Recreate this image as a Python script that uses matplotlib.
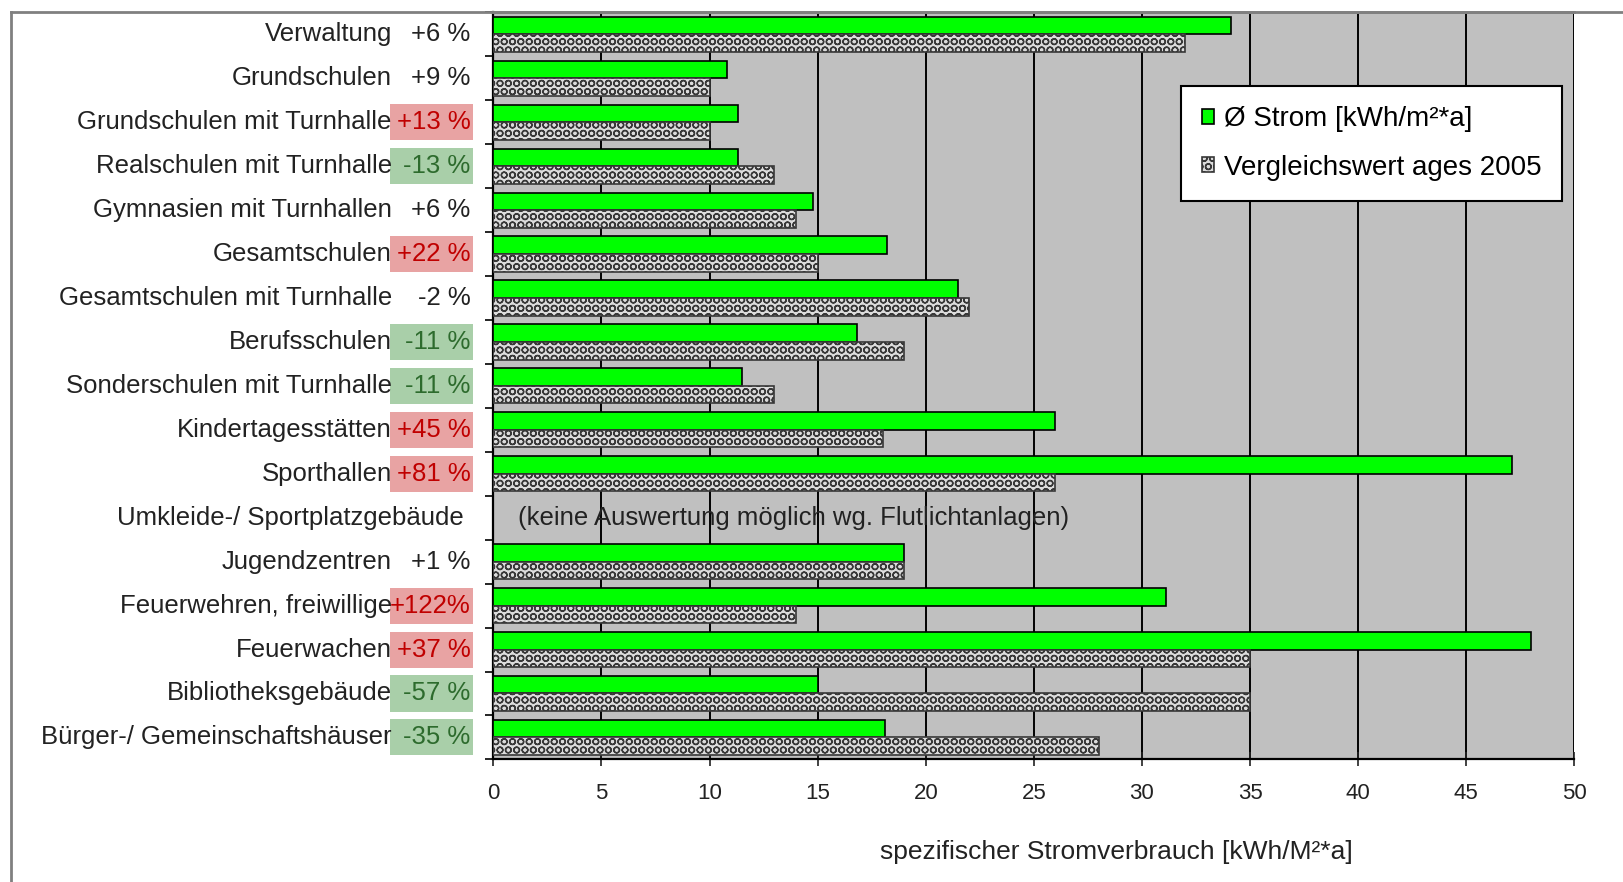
import numpy as np
import matplotlib
matplotlib.use("Agg")
import matplotlib.pyplot as plt
from matplotlib.patches import Rectangle
from matplotlib.lines import Line2D

plt.rcParams['font.family'] = ['Liberation Sans', 'DejaVu Sans']
plt.rcParams['hatch.linewidth'] = 1.0

# data (top to bottom)
categories = [
    "Verwaltung", "Grundschulen", "Grundschulen mit Turnhalle",
    "Realschulen mit Turnhalle", "Gymnasien mit Turnhallen", "Gesamtschulen",
    "Gesamtschulen mit Turnhalle", "Berufsschulen", "Sonderschulen mit Turnhalle",
    "Kindertagesstätten", "Sporthallen", "Umkleide-/ Sportplatzgebäude",
    "Jugendzentren", "Feuerwehren, freiwillige", "Feuerwachen",
    "Bibliotheksgebäude", "Bürger-/ Gemeinschaftshäuser",
]
changes = ["+6 %", "+9 %", "+13 %", "-13 %", "+6 %", "+22 %", "-2 %", "-11 %",
           "-11 %", "+45 %", "+81 %", "", "+1 %", "+122%", "+37 %", "-57 %", "-35 %"]
marks = ["", "", "up", "down", "", "up", "", "down", "down", "up", "up", "",
         "", "up", "up", "down", "down"]
strom = [34.1, 10.8, 11.3, 11.3, 14.8, 18.2, 21.5, 16.8, 11.5, 26.0, 47.1,
         np.nan, 19.0, 31.1, 48.0, 15.0, 18.1]
vergleich = [32.0, 10.0, 10.0, 13.0, 14.0, 15.0, 22.0, 19.0, 13.0, 18.0, 26.0,
             np.nan, 19.0, 14.0, 35.0, 35.0, 28.0]
note = "(keine Auswertung möglich wg. Flutlichtanlagen)"

fig = plt.figure(figsize=(16.23, 8.82), dpi=100)
ax = fig.add_axes([0.304, 0.139, 0.666, 0.847])
ax.set_facecolor('#c0c0c0')

y = np.arange(len(categories))
ax.barh(y - 0.2, strom, height=0.4, color='#00ff00', edgecolor='black',
        linewidth=1.2, zorder=3, label='Ø Strom [kWh/m²*a]')
ax.barh(y + 0.2, vergleich, height=0.4, color='#dcdcdc', edgecolor='#383838',
        hatch='OO', linewidth=1.2, zorder=3, label='Vergleichswert ages 2005')

ax.set_xlim(0, 50)
ax.set_ylim(len(categories) - 0.5, -0.5)
ax.set_xticks(np.arange(0, 51, 5))
ax.xaxis.grid(True, color='black', linewidth=1.4, zorder=1)
ax.set_axisbelow(True)
ax.tick_params(axis='x', direction='inout', length=10, width=1.2, pad=12,
               labelsize=16, colors='#222222')
ax.set_yticks(np.arange(len(categories) + 1) - 0.5)
ax.set_yticklabels([])
ax.tick_params(axis='y', direction='out', length=6, width=1.2)

for s in ['left', 'bottom']:
    ax.spines[s].set_linewidth(1.6)
ax.spines['right'].set_visible(False)
ax.spines['top'].set_color('#808080')
ax.spines['top'].set_linewidth(2)

# category names and percentage changes
trans = ax.get_yaxis_transform()
box_col = {"up": '#e8a3a3', "down": '#a9cfa9'}
txt_col = {"up": '#c00000', "down": '#2d6b2d', "": '#222222'}
fs = 18.5
for i, (name, ch, mk) in enumerate(zip(categories, changes, marks)):
    if ch:
        ax.text(-0.094, i, name, transform=trans, ha='right', va='center',
                fontsize=fs, color='#222222', zorder=3)
        if mk:
            ax.add_patch(Rectangle((-0.096, i - 0.41), 0.077, 0.82,
                                   transform=trans, facecolor=box_col[mk],
                                   edgecolor='none', clip_on=False, zorder=1))
        ax.text(-0.021, i, ch, transform=trans, ha='right', va='center',
                fontsize=fs, color=txt_col[mk], zorder=3)
    else:
        ax.text(-0.027, i, name, transform=trans, ha='right', va='center',
                fontsize=fs, color='#222222')
        ax.text(1.15, i, note, ha='left', va='center', fontsize=fs,
                color='#222222', zorder=4)

leg = ax.legend(loc='upper right', bbox_to_anchor=(0.989, 0.902), fontsize=20,
                frameon=True, fancybox=False, edgecolor='black', framealpha=1,
                handlelength=0.45, handleheight=0.45, handletextpad=0.35,
                labelspacing=0.8, borderpad=0.75, borderaxespad=0)
leg.get_frame().set_linewidth(1.5)

fig.text(0.688, 0.034, "spezifischer Stromverbrauch [kWh/M²*a]", ha='center',
         va='center', fontsize=19, color='#222222')

# outer frame of the chart area
fig.add_artist(Line2D([11 / 1623, 11 / 1623], [0, 1 - 12 / 882],
                      transform=fig.transFigure, color='#808080', linewidth=2))
fig.add_artist(Line2D([11 / 1623, 1], [1 - 12 / 882, 1 - 12 / 882],
                      transform=fig.transFigure, color='#808080', linewidth=2))

fig.savefig("out.png", dpi=100)
